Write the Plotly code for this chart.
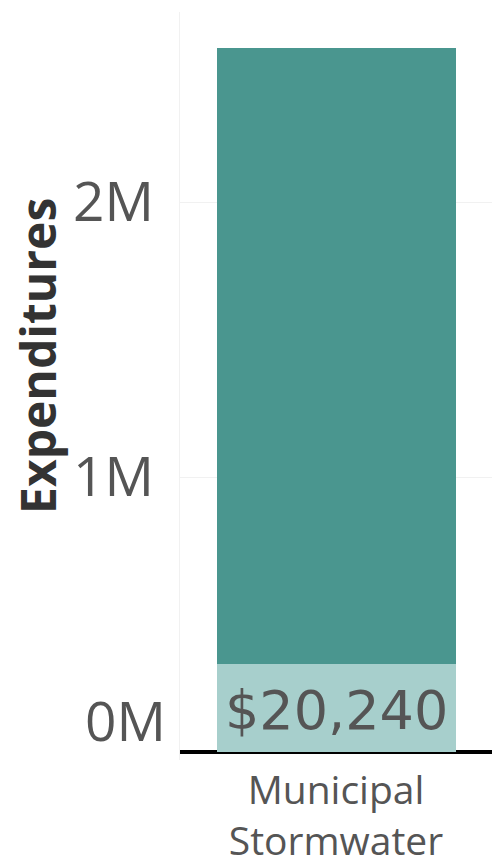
import plotly.graph_objects as go

# ---- data ----
categories = ["Municipal<br>Stormwater"]
total_expenditures = [2560000]
highlight_values = [320000]         # light bottom segment height as drawn
highlight_labels = ["$20,240"]
y_tickvals = [1000000, 2000000]
y_ticktext = ["1M", "2M"]
zero_tick_label = "0M"

DARK = "#4a968f"
LIGHT = "#a7cfcc"
GREY = "#555555"

fig = go.Figure()
fig.add_trace(go.Bar(
    x=categories, y=total_expenditures, marker_color=DARK,
    marker_line_width=0, width=0.766, hoverinfo="skip", showlegend=False))
fig.add_trace(go.Bar(
    x=categories, y=highlight_values, marker_color=LIGHT,
    marker_line_width=0, width=0.766, hoverinfo="skip", showlegend=False))

for c, v, lab in zip(categories, highlight_values, highlight_labels):
    fig.add_annotation(x=c, y=v / 2, xref="x", yref="y", text=lab,
                       showarrow=False, yshift=-2,
                       font=dict(family="DejaVu Sans", size=54, color=GREY))

# zero tick label (Tableau nudges the bottom label up inside the pane)
fig.add_annotation(x=0, xref="paper", xanchor="right", xshift=-12,
                   y=0, yref="y", yshift=33, text=zero_tick_label,
                   showarrow=False,
                   font=dict(family="Open Sans", size=55, color=GREY))

fig.add_annotation(x=0, xref="paper", xanchor="center", xshift=-143,
                   y=0.5, yref="paper", yshift=30,
                   text="<b>Expenditures</b>", textangle=-90, showarrow=False,
                   font=dict(family="Open Sans", size=48, color="#333333"))

fig.update_layout(
    width=492, height=863,
    margin=dict(l=180, r=0, t=12, b=103, autoexpand=False),
    paper_bgcolor="white", plot_bgcolor="white",
    barmode="overlay", bargap=0,
    xaxis=dict(range=[-0.5, 0.5], showgrid=False, zeroline=False, automargin=False,
               showline=False, tickfont=dict(family="Open Sans", size=39, color=GREY),
               ticks="", ticklabelstandoff=4),
    yaxis=dict(range=[-29000, 2691000], tickvals=y_tickvals, ticktext=y_ticktext,
               automargin=False,
               showgrid=True, gridcolor="#f1f1f1", gridwidth=1,
               zeroline=True, zerolinecolor="black", zerolinewidth=4,
               showline=True, linecolor="#f1f1f1", linewidth=1,
               ticks="", ticklabelstandoff=14,
               tickfont=dict(family="Open Sans", size=55, color=GREY)),
)

fig.write_html("out.html", config={"displayModeBar": False},
               post_script="document.body.style.margin='0';document.body.style.overflow='hidden';")
